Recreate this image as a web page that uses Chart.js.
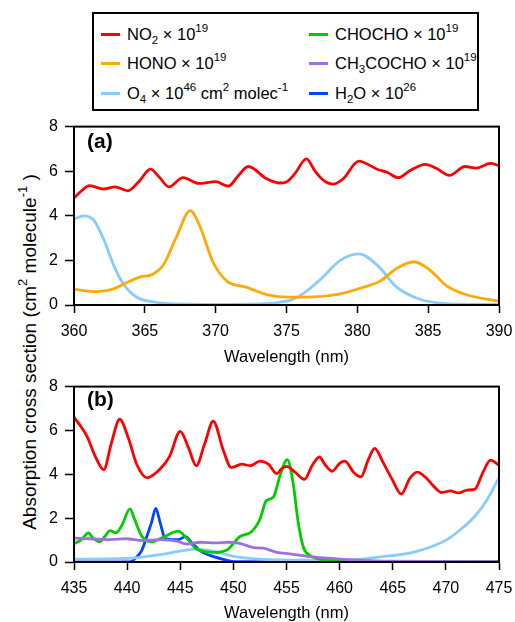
<!DOCTYPE html>
<html>
<head>
<meta charset="utf-8">
<script src="https://cdn.jsdelivr.net/npm/chart.js@4/dist/chart.umd.min.js"></script>
<style>
  html, body { margin: 0; padding: 0; background: #fff; overflow: hidden; }
  body { width: 515px; height: 622px; position: relative; font-family: "Liberation Sans", Arial, sans-serif; color: #000; }
  .legend { position: absolute; left: 92px; top: 12px; width: 383px; height: 95px; border: 2px solid #000; background: #fff; }
  .item { position: absolute; font-size: 16.5px; line-height: 17px; white-space: nowrap; }
  .item i { position: absolute; left: -26px; top: 7px; width: 19px; height: 3px; }
  sup { font-size: 11.5px; vertical-align: 8px; line-height: 0; }
  sub { font-size: 11.5px; vertical-align: -4px; line-height: 0; }
  .ytitle { position: absolute; left: 30px; top: 352px; transform: translate(-50%, -50%) rotate(-90deg); font-size: 19px; white-space: nowrap; }
  .ytitle sup { font-size: 13px; vertical-align: 9px; }
  .panel { position: absolute; left: 0; width: 515px; }
  .tag { position: absolute; font-weight: bold; font-size: 21px; }
</style>
</head>
<body>
<div class="legend">
  <div class="item" style="left:33px;top:12px"><i style="background:#ff0000"></i>NO<sub>2</sub> × 10<sup>19</sup></div>
  <div class="item" style="left:33px;top:41px"><i style="background:#ffaa00"></i>HONO × 10<sup>19</sup></div>
  <div class="item" style="left:33px;top:71px"><i style="background:#88ccff"></i>O<sub>4</sub> × 10<sup>46</sup> cm<sup>2</sup> molec<sup>-1</sup></div>
  <div class="item" style="left:241px;top:12px"><i style="background:#00cc00"></i>CHOCHO × 10<sup>19</sup></div>
  <div class="item" style="left:241px;top:41px"><i style="background:#a070e0"></i>CH<sub>3</sub>COCHO × 10<sup>19</sup></div>
  <div class="item" style="left:241px;top:71px"><i style="background:#0044ff"></i>H<sub>2</sub>O × 10<sup>26</sup></div>
</div>
<div class="ytitle">Absorption cross section (cm<sup>2</sup> molecule<sup>-1</sup> )</div>
<div class="panel" style="top:110px;height:260px"><canvas id="chartA"></canvas></div>
<div class="panel" style="top:370px;height:262px"><canvas id="chartB"></canvas></div>
<div class="tag" style="left:87px;top:129px">(a)</div>
<div class="tag" style="left:87px;top:387px">(b)</div>
<script>
// panel (a) 360-390 nm
const no2A_wl = [360, 360.5, 361.1, 362.1, 362.9, 363.8, 364.6, 365.4, 366.0, 366.7, 367.7, 368.8, 370.0, 370.9, 371.6, 372.3, 373.6, 374.5, 375.0, 375.6, 376.4, 377.0, 377.6, 378.3, 379.0, 380.1, 381.4, 382.1, 382.9, 383.7, 384.8, 385.6, 386.5, 387.6, 388.4, 389.4, 390];
const no2A = [4.8, 5.1, 5.35, 5.2, 5.3, 5.12, 5.55, 6.09, 5.75, 5.3, 5.71, 5.45, 5.53, 5.33, 5.8, 6.21, 5.66, 5.47, 5.52, 5.9, 6.55, 6.02, 5.6, 5.42, 5.66, 6.45, 6.09, 5.95, 5.71, 6.02, 6.31, 6.12, 5.81, 6.21, 6.14, 6.35, 6.25];

const honoA_wl = [360, 361.6, 362.8, 363.7, 364.7, 365.5, 366.3, 367.25, 368.2, 368.9, 369.8, 370.8, 372.2, 373.6, 375.2, 376.9, 378.8, 380.4, 381.6, 382.8, 384.0, 385.1, 386.3, 387.7, 390];
const honoA = [0.7, 0.6, 0.72, 1.0, 1.26, 1.36, 1.79, 3.08, 4.23, 3.51, 1.94, 1.07, 0.79, 0.47, 0.35, 0.36, 0.5, 0.79, 1.07, 1.65, 1.94, 1.58, 0.86, 0.46, 0.17];

const o4A_wl = [360, 360.7, 361.4, 362.1, 362.8, 363.5, 364.4, 365.6, 367.3, 370, 373, 374.5, 375.3, 376.0, 377.4, 378.8, 380.1, 381.4, 382.8, 384.4, 386.1, 388, 390];
const o4A = [3.85, 4.0, 3.8, 2.94, 1.79, 0.93, 0.36, 0.14, 0.05, 0.03, 0.05, 0.12, 0.22, 0.43, 1.15, 2.0, 2.29, 1.79, 0.79, 0.26, 0.07, 0.03, 0.03];

// panel (b) 435-475 nm
const no2B_wl = [435, 436.2, 437.0, 437.8, 438.5, 439.3, 440.1, 440.9, 441.9, 443.1, 444.0, 445.0, 445.8, 446.5, 447.3, 448.1, 449.05, 449.8, 450.8, 451.6, 452.5, 453.3, 454.1, 454.5, 455.0, 455.8, 456.7, 457.4, 458.1, 458.6, 459.3, 460.0, 460.5, 461.3, 462.0, 462.7, 463.3, 464.1, 464.9, 465.8, 466.6, 467.3, 468.2, 469.0, 469.6, 470.4, 471.2, 472.0, 472.7, 473.5, 474.2, 475];
const no2B = [6.61, 5.75, 4.82, 4.21, 5.39, 6.51, 5.68, 4.46, 3.84, 4.24, 4.82, 5.96, 5.18, 4.39, 5.39, 6.42, 5.1, 4.31, 4.46, 4.39, 4.6, 4.46, 4.03, 4.24, 4.36, 4.1, 3.77, 4.39, 4.79, 4.46, 4.14, 4.5, 4.6, 4.1, 3.88, 4.67, 5.18, 4.53, 3.81, 3.10, 3.81, 4.1, 3.81, 3.38, 3.17, 3.24, 3.15, 3.28, 3.31, 4.1, 4.65, 4.42];

const chochoB_wl = [435, 435.7, 436.35, 436.8, 437.4, 437.9, 438.4, 438.95, 439.5, 440.27, 440.7, 441.4, 442.3, 443.4, 444.8, 445.6, 446.55, 448.1, 449.4, 450.6, 451.7, 452.5, 453.1, 453.76, 454.4, 455.07, 455.6, 456.1, 456.6, 457.2, 458.5, 460, 475];
const chochoB = [0.83, 1.02, 1.33, 1.09, 0.92, 1.16, 1.43, 1.33, 1.66, 2.42, 1.95, 1.16, 0.92, 1.13, 1.41, 1.09, 0.59, 0.44, 0.55, 1.16, 1.38, 1.95, 2.8, 2.95, 3.96, 4.67, 3.67, 1.81, 0.66, 0.30, 0.1, 0.03, 0.02];

const mgB_wl = [435, 436.8, 438.4, 439.9, 441.5, 443.1, 444.7, 445.6, 446.9, 448.4, 449.4, 450.6, 451.9, 452.8, 454.1, 455.3, 457.5, 460.7, 463.9, 475];
const mgB = [1.09, 1.05, 1.02, 1.06, 0.98, 1.02, 0.95, 0.82, 0.90, 0.87, 0.90, 0.85, 0.66, 0.63, 0.44, 0.37, 0.23, 0.11, 0.04, 0.02];

const o4B_wl = [435, 439.9, 443.1, 445.3, 446.55, 447.8, 450.0, 452.5, 455.3, 458, 460.7, 463.8, 466.9, 468.8, 470.1, 471.3, 472.6, 473.84, 475];
const o4B = [0.13, 0.16, 0.34, 0.52, 0.59, 0.52, 0.26, 0.13, 0.09, 0.08, 0.09, 0.23, 0.44, 0.73, 1.02, 1.45, 2.02, 2.81, 3.85];

const h2oB_wl = [435, 440, 440.5, 440.9, 441.37, 441.8, 442.3, 442.7, 443.1, 443.56, 444.2, 444.8, 445.5, 446.1, 446.86, 447.8, 449.05, 450, 475];
const h2oB = [0, 0, 0.05, 0.23, 0.52, 1.09, 1.81, 2.45, 1.81, 1.09, 1.02, 1.02, 1.16, 0.87, 0.52, 0.30, 0.12, 0.02, 0];

const yTicks = [0, 2, 4, 6, 8];

const pts = (xs, ys) => xs.map((x, i) => ({ x, y: ys[i] }));

const line = (label, xs, ys, color) => ({
    label, data: pts(xs, ys),
    borderColor: color, backgroundColor: color,
    borderWidth: 2.8, pointRadius: 0, cubicInterpolationMode: 'monotone', fill: false
});

const frame = {
    id: 'frame',
    afterDraw(chart) {
        const a = chart.chartArea, ctx = chart.ctx;
        ctx.save();
        ctx.strokeStyle = '#000';
        ctx.lineWidth = 2;
        ctx.strokeRect(a.left, a.top, a.right - a.left, a.bottom - a.top);
        ctx.restore();
    }
};

function makeChart(id, datasets, xmin, xmax, padTop, axisH, titlePad) {
    return new Chart(document.getElementById(id), {
        type: 'line',
        data: { datasets },
        options: {
            responsive: true, maintainAspectRatio: false, animation: false,
            layout: { padding: { top: padTop, right: 16, left: 0, bottom: 0 } },
            plugins: { legend: { display: false }, tooltip: { enabled: false } },
            scales: {
                x: {
                    type: 'linear', min: xmin, max: xmax,
                    afterFit: s => { s.height = axisH; s.paddingLeft = 0; s.paddingRight = 0; },
                    afterBuildTicks: s => { s.ticks = []; for (let v = xmin; v <= xmax; v += 5) s.ticks.push({ value: v }); },
                    grid: { drawOnChartArea: false, drawTicks: true, tickLength: 8, tickColor: '#000', tickWidth: 1.5 },
                    border: { color: '#000', width: 2 },
                    ticks: { color: '#000', padding: 9, maxRotation: 0, font: { family: 'Liberation Sans', size: 16 } },
                    title: { display: true, text: 'Wavelength (nm)', color: '#000', padding: { top: 0, bottom: titlePad }, font: { family: 'Liberation Sans', size: 16.5 } }
                },
                y: {
                    min: 0, max: 8,
                    afterFit: s => { s.width = 74; },
                    afterBuildTicks: s => { s.ticks = yTicks.map(v => ({ value: v })); },
                    grid: { drawOnChartArea: false, drawTicks: true, tickLength: 9, tickColor: '#000', tickWidth: 1.5 },
                    border: { color: '#000', width: 2 },
                    ticks: { color: '#000', padding: 7, font: { family: 'Liberation Sans', size: 16 } }
                }
            }
        },
        plugins: [frame]
    });
}

makeChart('chartA', [
    line('NO2 × 10^19', no2A_wl, no2A, '#ff0000'),
    line('HONO × 10^19', honoA_wl, honoA, '#ffaa00'),
    line('O4 × 10^46', o4A_wl, o4A, '#88ccff')
], 360, 390, 9, 65, 3);

makeChart('chartB', [
    line('NO2 × 10^19', no2B_wl, no2B, '#ff0000'),
    line('CH3COCHO × 10^19', mgB_wl, mgB, '#a070e0'),
    line('CHOCHO × 10^19', chochoB_wl, chochoB, '#00cc00'),
    line('O4 × 10^46', o4B_wl, o4B, '#88ccff'),
    line('H2O × 10^26', h2oB_wl, h2oB, '#0044ff')
], 435, 475, 6, 70, 9);
</script>
</body>
</html>
